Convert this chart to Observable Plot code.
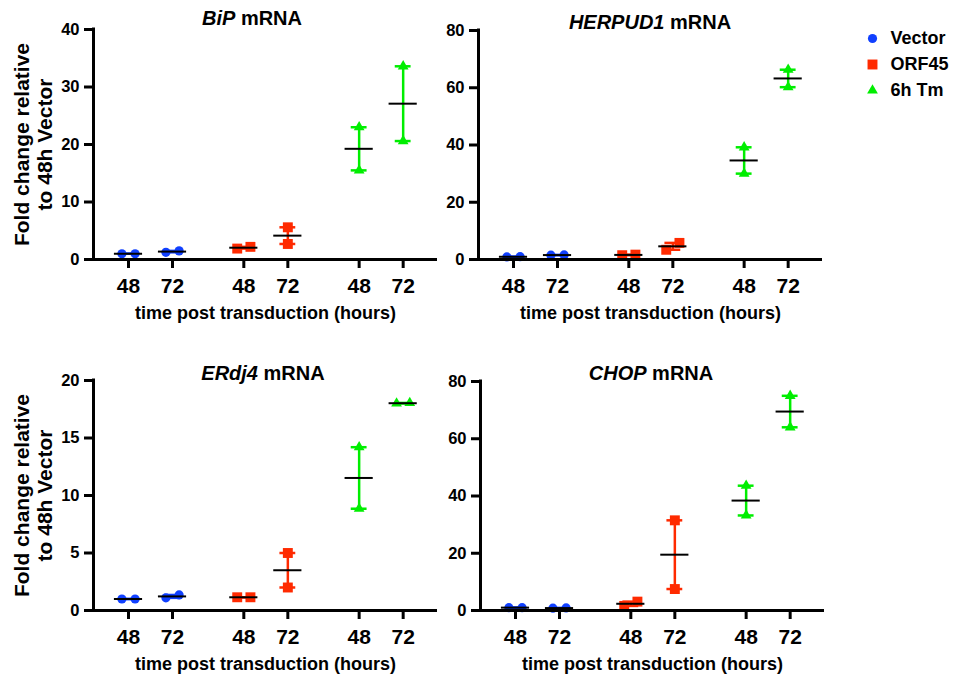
<!DOCTYPE html>
<html>
<head>
<meta charset="utf-8">
<script src="https://cdn.jsdelivr.net/npm/d3@7"></script>
<script src="https://cdn.jsdelivr.net/npm/@observablehq/plot@0.6"></script>
<style>
  html, body { margin: 0; padding: 0; background: #fff; }
  #root { position: relative; width: 957px; height: 681px; overflow: hidden;
          font-family: "Liberation Sans", Arial, sans-serif; font-weight: bold; color: #000; }
  #root svg { position: absolute; }
</style>
</head>
<body>
<div id="root"></div>
<script>
// ---------- data ----------
const groups = ["Vector", "ORF45", "6h Tm"];
const times = ["48", "72"];
const groupColors = ["#1040ff", "#ff2a00", "#00ee00"];
const groupSymbols = ["circle", "square", "triangle"];
const genes = ["BiP", "HERPUD1", "ERdj4", "CHOP"];
const yMaxes = [40, 80, 20, 80];
const yTickSteps = [10, 20, 5, 20];
// two replicates per condition, order: Vector 48, Vector 72, ORF45 48, ORF45 72, 6h Tm 48, 6h Tm 72
const bipValues     = [[1.0, 1.0], [1.25, 1.5], [1.9, 2.2], [5.6, 2.7], [23.0, 15.5], [33.6, 20.6]];
const herpud1Values = [[0.9, 1.0], [1.5, 1.6], [1.5, 1.7], [3.4, 5.8], [39.2, 30.0], [66.3, 60.2]];
const erdj4Values   = [[1.0, 1.0], [1.1, 1.35], [1.15, 1.15], [5.0, 2.0], [14.2, 8.85], [18.0, 18.05]];
const chopValues    = [[1.0, 1.0], [0.8, 0.9], [1.6, 3.1], [31.5, 7.5], [43.6, 33.2], [75.0, 64.0]];
const panelValues = [bipValues, herpud1Values, erdj4Values, chopValues];
const yLabelText = "Fold change relative\nto 48h Vector";
const xLabelText = "time post transduction (hours)";
const titleSuffix = " mRNA";

// ---------- style / layout ----------
const symbolRadius = [4.6, 5.6, 4.0];   // per group marker radius
const GAP = 2.62;                        // x distance between groups (in time-slot units)
const X_DOMAIN = [-0.795, 7.02];
const layout = [
  {left: 0,   top: 0,   mLeft: 93, mTop: 29, plotH: 230, width: 440, titleX: 252, titleY: 25, yLabel: true},
  {left: 420, top: 0,   mLeft: 58, mTop: 30, plotH: 229, width: 405, titleX: 650, titleY: 29, yLabel: false},
  {left: 0,   top: 351, mLeft: 93, mTop: 29, plotH: 230, width: 440, titleX: 263, titleY: 380, yLabel: true},
  {left: 422, top: 351, mLeft: 58, mTop: 30, plotH: 229, width: 404, titleX: 651, titleY: 380, yLabel: false}
];

const root = document.getElementById("root");

function dotMarks(data, opts) {
  return groups.map((g, i) => Plot.dot(data.filter(d => opts.group(d) === g),
    {...opts.channels, r: symbolRadius[i]}));
}

function panel(values, yMax, step, L) {
  const conds = values.map((pair, i) => {
    const g = Math.floor(i / 2), t = i % 2;
    return {group: groups[g], time: times[t], xc: g * GAP + t,
            min: d3.min(pair), max: d3.max(pair), mean: d3.mean(pair), pair};
  });
  const pxPerUnit = L.plotH / yMax;
  const pts = [];
  conds.forEach(c => {
    const s = [...c.pair].sort((a, b) => a - b);
    const overlap = (s[1] - s[0]) * pxPerUnit < 9;
    s.forEach((v, k) => pts.push({group: c.group, v, x: c.xc + (overlap ? (k ? 1 : -1) * 0.15 : 0)}));
  });
  const tickLabel = new Map(conds.map(c => [c.xc, c.time]));
  const height = L.mTop + L.plotH + 71;
  const svg = Plot.plot({
    width: L.width, height,
    marginLeft: L.mLeft, marginTop: L.mTop, marginBottom: 71, marginRight: L.width - L.mLeft - 344,
    style: {background: "transparent", fontFamily: "'Liberation Sans', Arial, sans-serif", fontWeight: "bold", overflow: "visible", color: "#000"},
    x: {domain: X_DOMAIN, axis: null},
    y: {domain: [0, yMax], axis: null},
    color: {domain: groups, range: groupColors},
    symbol: {domain: groups, range: groupSymbols},
    marks: [
      Plot.ruleX(conds, {x: "xc", y1: "min", y2: "max", stroke: "group", strokeWidth: 2.5}),
      Plot.ruleY(conds, {y: "min", x1: d => d.xc - 0.18, x2: d => d.xc + 0.18, stroke: "group", strokeWidth: 2.5}),
      Plot.ruleY(conds, {y: "max", x1: d => d.xc - 0.18, x2: d => d.xc + 0.18, stroke: "group", strokeWidth: 2.5}),
      ...dotMarks(pts, {group: d => d.group, channels: {x: "x", y: "v", fill: "group", symbol: "group"}}),
      Plot.ruleY(conds, {y: "mean", x1: d => d.xc - 0.32, x2: d => d.xc + 0.32, stroke: "#000", strokeWidth: 2}),
      Plot.ruleY([0], {stroke: "#000", strokeWidth: 3}),
      Plot.ruleX([X_DOMAIN[0]], {y1: 0, y2: yMax, stroke: "#000", strokeWidth: 3, strokeLinecap: "square"}),
      Plot.axisY({ticks: d3.range(0, yMax + step / 2, step), tickSize: 9, tickPadding: 5,
                  fontSize: 16.5, fontWeight: "bold", strokeWidth: 3, label: null}),
      Plot.axisX({ticks: conds.map(c => c.xc), tickFormat: d => tickLabel.get(d), tickSize: 9, tickPadding: 10,
                  fontSize: 21, fontWeight: "bold", strokeWidth: 3, label: null}),
      Plot.text([xLabelText], {text: d => d, frameAnchor: "bottom", lineAnchor: "middle", textAnchor: "middle",
                  dy: 54, fontSize: 18, fontWeight: "bold", fill: "#000"}),
      L.yLabel ? Plot.text([yLabelText], {text: d => d, frameAnchor: "left", textAnchor: "middle", lineAnchor: "middle",
                  dx: -60, rotate: -90, fontSize: 21, lineHeight: 1.1, fontWeight: "bold", fill: "#000"}) : null
    ]
  });
  svg.style.left = L.left + "px";
  svg.style.top = L.top + "px";
  root.appendChild(svg);
}

panelValues.forEach((vals, i) => panel(vals, yMaxes[i], yTickSteps[i], layout[i]));

// titles
const NS = "http://www.w3.org/2000/svg";
const tsvg = document.createElementNS(NS, "svg");
tsvg.setAttribute("width", 957); tsvg.setAttribute("height", 681);
tsvg.style.left = "0px"; tsvg.style.top = "0px"; tsvg.style.pointerEvents = "none";
genes.forEach((g, i) => {
  const t = document.createElementNS(NS, "text");
  t.setAttribute("x", layout[i].titleX);
  t.setAttribute("y", layout[i].titleY);
  t.setAttribute("text-anchor", "middle");
  t.setAttribute("font-family", "'Liberation Sans', Arial, sans-serif");
  t.setAttribute("font-weight", "bold");
  t.setAttribute("font-size", 20);
  const it = document.createElementNS(NS, "tspan");
  it.setAttribute("font-style", "italic");
  it.textContent = g;
  t.appendChild(it);
  t.appendChild(document.createTextNode(titleSuffix));
  tsvg.appendChild(t);
});
root.appendChild(tsvg);

// legend
const legend = Plot.plot({
  width: 97, height: 90, margin: 0,
  style: {background: "transparent", fontFamily: "'Liberation Sans', Arial, sans-serif", fontWeight: "bold", overflow: "visible"},
  x: {domain: [0, 1], range: [12, 30], axis: null},
  y: {type: "point", domain: groups, range: [17, 70], padding: 0, axis: null},
  color: {domain: groups, range: groupColors},
  symbol: {domain: groups, range: groupSymbols},
  marks: [
    ...dotMarks(groups, {group: d => d, channels: {x: 0, y: d => d, fill: d => d, symbol: d => d}}),
    Plot.text(groups, {x: 1, y: d => d, text: d => d, textAnchor: "start", lineAnchor: "middle", fontSize: 18, fontWeight: "bold", fill: "#000"})
  ]
});
legend.style.left = "860px";
legend.style.top = "20px";
root.appendChild(legend);
</script>
</body>
</html>
